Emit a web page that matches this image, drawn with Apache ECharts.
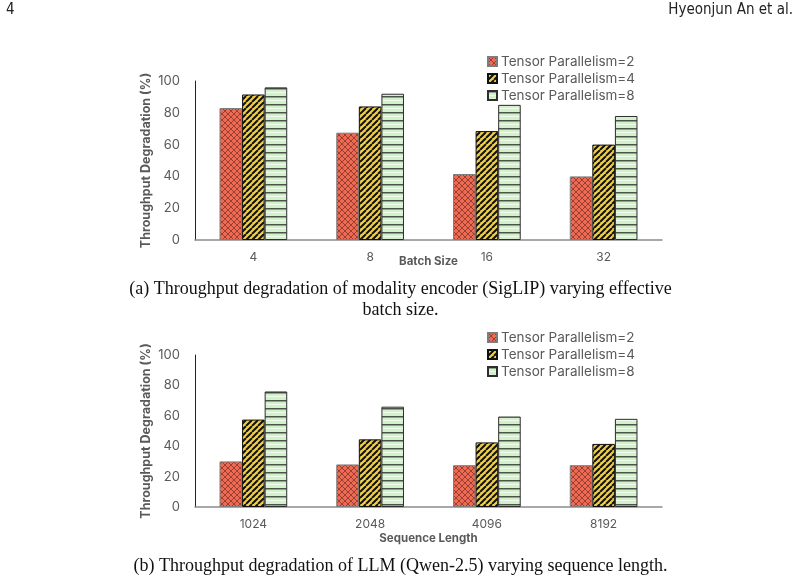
<!DOCTYPE html>
<html>
<head>
<meta charset="utf-8">
<script src="https://cdn.jsdelivr.net/npm/echarts@6/dist/echarts.min.js"></script>
<style>
  html, body { margin: 0; padding: 0; background: #fff; }
  #chart { width: 801px; height: 583px; }
</style>
</head>
<body>
<div id="chart"></div>
<script>
// chart (a): batch size
const batchSizes = ['4', '8', '16', '32'];
const encTp2 = [83, 67.5, 41.5, 40];
const encTp4 = [91.5, 84, 68.5, 60];
const encTp8 = [96, 92, 85, 78];

// chart (b): sequence length
const seqLengths = ['1024', '2048', '4096', '8192'];
const llmTp2 = [30, 28, 27.5, 27.5];
const llmTp4 = [57.5, 44.5, 42.5, 41.5];
const llmTp8 = [76, 66, 59.5, 58];

const seriesNames = ['Tensor Parallelism=2', 'Tensor Parallelism=4', 'Tensor Parallelism=8'];
const yTicks = [0, 20, 40, 60, 80, 100];

const grey = '#595959';
const font = 'Inter, Roboto, sans-serif';

function makeTile(w, h, draw) {
  const c = document.createElement('canvas');
  c.width = w;
  c.height = h;
  draw(c.getContext('2d'), w, h);
  return c;
}

// red: lattice cross-hatch
const redTile = makeTile(6, 6, (ctx, w, h) => {
  ctx.fillStyle = '#ee6a53';
  ctx.fillRect(0, 0, w, h);
  ctx.strokeStyle = '#8e3a2e';
  ctx.lineWidth = 0.9;
  ctx.beginPath();
  for (const k of [-w, 0, w]) {
    ctx.moveTo(k, 0); ctx.lineTo(k + w, h);
    ctx.moveTo(k, h); ctx.lineTo(k + w, 0);
  }
  ctx.stroke();
});

// yellow: black diagonal stripes
const yellowTile = makeTile(6, 6, (ctx, w, h) => {
  ctx.fillStyle = '#f3d03c';
  ctx.fillRect(0, 0, w, h);
  ctx.strokeStyle = '#111';
  ctx.lineWidth = 2;
  ctx.beginPath();
  for (const k of [-w, 0, w]) {
    ctx.moveTo(k, h); ctx.lineTo(k + w, 0);
  }
  ctx.stroke();
});

// green: horizontal lines
const greenTile = makeTile(4, 8, (ctx, w, h) => {
  ctx.fillStyle = '#d4f1cc';
  ctx.fillRect(0, 0, w, h);
  ctx.fillStyle = '#4a564a';
  ctx.fillRect(0, 0, w, 1.5);
  ctx.fillStyle = '#eefaeb';
  ctx.fillRect(0, 4, w, 1);
});

const styles = [
  { color: { image: redTile, repeat: 'repeat' }, borderColor: '#7d7d7d', borderWidth: 1 },
  { color: { image: yellowTile, repeat: 'repeat' }, borderColor: '#111', borderWidth: 1 },
  { color: { image: greenTile, repeat: 'repeat' }, borderColor: '#2e2e2e', borderWidth: 1 }
];

function xAxisFor(idx, cats, name, gap) {
  return {
    type: 'category', gridIndex: idx, data: cats,
    name: name, nameLocation: 'middle', nameGap: gap, nameMoveOverlap: false,
    nameTextStyle: { color: grey, fontSize: 11.5, fontWeight: 'bold', fontFamily: font },
    axisLine: { lineStyle: { color: '#8c8c8c', width: 1.5 } },
    axisTick: { show: false },
    axisLabel: { color: grey, fontSize: 12, fontFamily: font, margin: 11 }
  };
}

function yAxisFor(idx) {
  return {
    type: 'value', gridIndex: idx, min: yTicks[0], max: yTicks[yTicks.length - 1], interval: 20,
    name: 'Throughput Degradation (%)', nameLocation: 'middle', nameGap: 42, nameMoveOverlap: false,
    nameTextStyle: { color: grey, fontSize: 12.5, fontWeight: 'bold', fontFamily: font },
    axisLine: { show: true, lineStyle: { color: '#222', width: 1 } },
    axisTick: { show: false },
    splitLine: { show: false },
    axisLabel: { color: grey, fontSize: 13, fontFamily: font, margin: 15 }
  };
}

function barsFor(idx, groups) {
  return groups.map((vals, i) => ({
    name: seriesNames[i], type: 'bar', xAxisIndex: idx, yAxisIndex: idx,
    data: vals, barGap: '0%', barCategoryGap: '42%',
    itemStyle: styles[i]
  }));
}

function legendFor(idx, top) {
  return {
    orient: 'vertical', left: 482, top: top, itemGap: 3,
    itemWidth: 9, itemHeight: 9, icon: 'rect',
    data: seriesNames,
    textStyle: { color: grey, fontSize: 13.5, fontFamily: font, padding: [0, 0, 0, -1] }
  };
}

const capFont = '"Liberation Serif", "DejaVu Serif", serif';
const headFont = '"Liberation Sans Narrow", "DejaVu Sans Condensed", "Liberation Serif", sans-serif';

const chart = echarts.init(document.getElementById('chart'));
chart.setOption({
  animation: false,
  grid: [
    { left: 195, right: 139, top: 81, height: 159 },
    { left: 195, right: 139, top: 355, height: 152 }
  ],
  xAxis: [xAxisFor(0, batchSizes, 'Batch Size', 16), xAxisFor(1, seqLengths, 'Sequence Length', 26)],
  yAxis: [yAxisFor(0), yAxisFor(1)],
  legend: [legendFor(0, 49.5), legendFor(1, 325.5)],
  series: [
    ...barsFor(0, [encTp2, encTp4, encTp8]),
    ...barsFor(1, [llmTp2, llmTp4, llmTp8])
  ],
  graphic: [
    { type: 'text', left: 6, top: 3, style: { text: '4', font: '15px ' + headFont, fill: '#222' } },
    { type: 'text', right: 8, top: 3, style: { text: 'Hyeonjun An et al.', font: '15px ' + headFont, fill: '#222' } },
    { type: 'text', left: 'center', top: 280, style: { text: '(a) Throughput degradation of modality encoder (SigLIP) varying effective', font: '18px ' + capFont, fill: '#111' } },
    { type: 'text', left: 'center', top: 301, style: { text: 'batch size.', font: '18px ' + capFont, fill: '#111' } },
    { type: 'text', left: 'center', top: 557, style: { text: '(b) Throughput degradation of LLM (Qwen-2.5) varying sequence length.', font: '18px ' + capFont, fill: '#111' } }
  ]
});
</script>
</body>
</html>
